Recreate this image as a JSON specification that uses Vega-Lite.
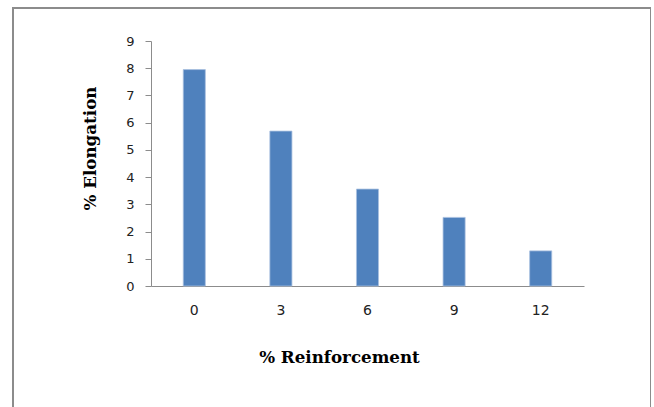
{
  "$schema": "https://vega.github.io/schema/vega-lite/v6.json",
  "autosize": {"type": "none"},
  "padding": {"left": 13, "top": 8, "right": 0, "bottom": 0},
  "width": 638,
  "height": 400,
  "background": "white",
  "config": {
    "view": {"stroke": "#8c8c8c", "strokeWidth": 2},
    "axis": {
      "domainColor": "#8c8c8c",
      "tickColor": "#8c8c8c",
      "grid": false,
      "labelFont": "DejaVu Sans",
      "labelFontSize": 13,
      "labelColor": "#222222",
      "titleFont": "DejaVu Serif",
      "titleFontSize": 16.7,
      "titleFontWeight": "bold",
      "titleColor": "#000000"
    }
  },
  "data": {
    "values": [
      {"reinforcement": "0", "elongation": 7.95},
      {"reinforcement": "3", "elongation": 5.69},
      {"reinforcement": "6", "elongation": 3.56},
      {"reinforcement": "9", "elongation": 2.52},
      {"reinforcement": "12", "elongation": 1.29}
    ]
  },
  "mark": {"type": "bar", "color": "#4f81bd", "stroke": "#a9c0df", "strokeWidth": 0.8},
  "encoding": {
    "x": {
      "field": "reinforcement",
      "type": "ordinal",
      "sort": ["0", "3", "6", "9", "12"],
      "scale": {"range": [138, 571], "paddingInner": 0.745, "paddingOuter": 0.3725},
      "axis": {
        "title": "% Reinforcement",
        "offset": -122,
        "labelAngle": 0,
        "labelFontSize": 14,
        "ticks": false,
        "tickSize": 0,
        "labelPadding": 17,
        "titleX": 326,
        "titleY": 76,
        "titleAnchor": null,
        "titleAlign": "center",
        "titleBaseline": "alphabetic"
      }
    },
    "y": {
      "field": "elongation",
      "type": "quantitative",
      "scale": {"domain": [0, 9], "range": [278, 33], "nice": false, "zero": true},
      "axis": {
        "title": "% Elongation",
        "offset": -138,
        "values": [0, 1, 2, 3, 4, 5, 6, 7, 8, 9],
        "tickSize": 6,
        "labelPadding": 11,
        "titleX": -56,
        "titleY": 140,
        "titleAngle": -90,
        "titleAlign": "center",
        "titleBaseline": "alphabetic"
      }
    }
  }
}
